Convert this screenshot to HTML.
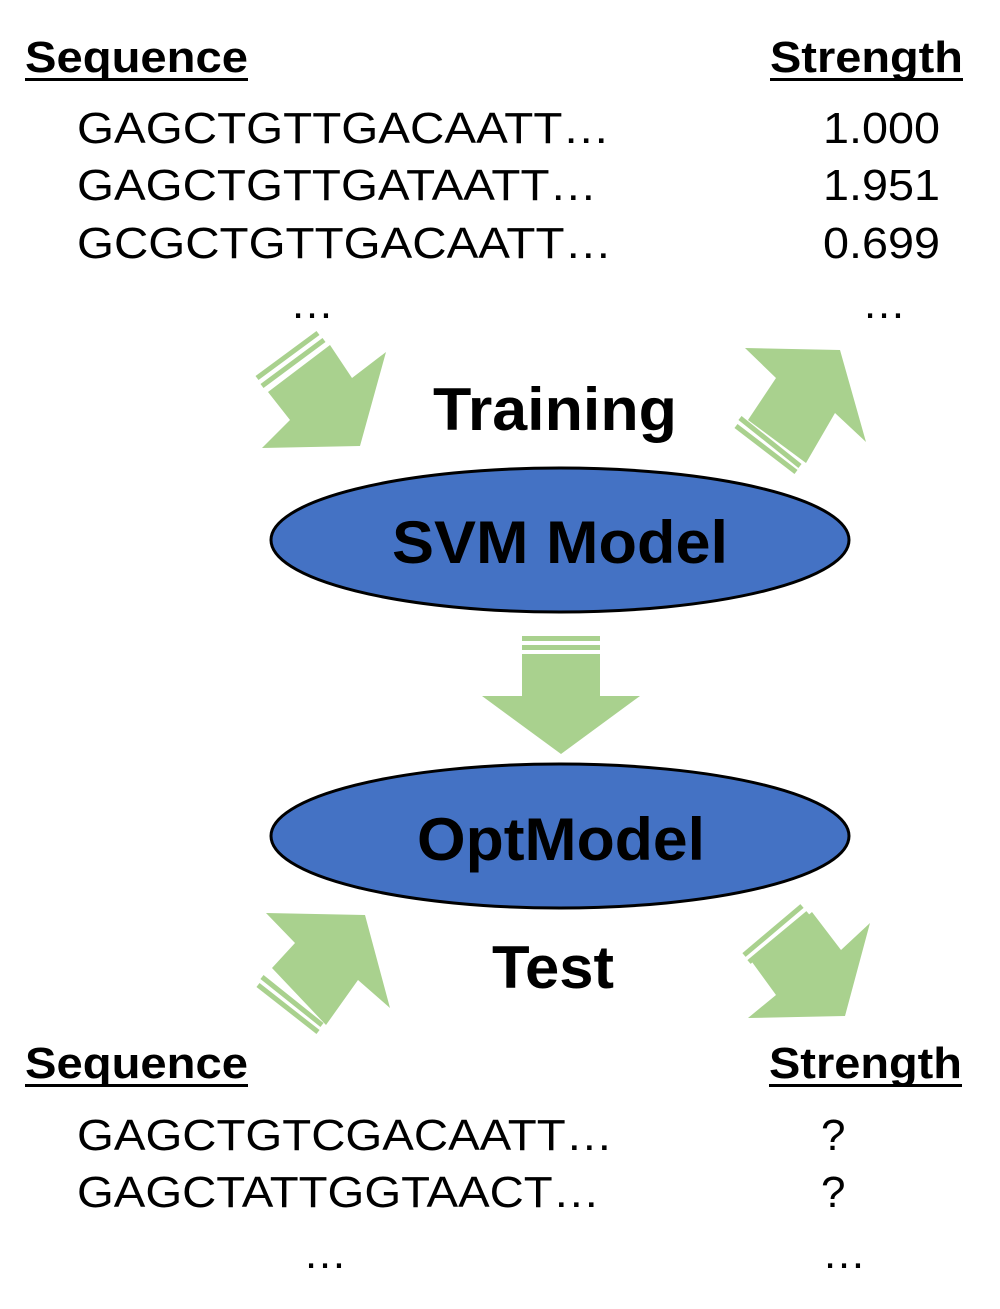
<!DOCTYPE html>
<html><head><meta charset="utf-8"><style>
html,body{margin:0;padding:0;background:#fff;}
svg{display:block;}
text{font-family:"Liberation Sans",Arial,sans-serif;fill:#000;}
.b{font-weight:bold;}
</style></head><body>
<svg width="1000" height="1309" viewBox="0 0 1000 1309" xmlns="http://www.w3.org/2000/svg">
<text x="25" y="72" class="b" font-size="44" textLength="223" lengthAdjust="spacingAndGlyphs">Sequence</text>
<rect x="25" y="78" width="223" height="3"/>
<text x="770" y="72" class="b" font-size="44" textLength="193" lengthAdjust="spacingAndGlyphs">Strength</text>
<rect x="770" y="78" width="193" height="3"/>
<g font-size="44">
<text x="77" y="143" textLength="533" lengthAdjust="spacingAndGlyphs">GAGCTGTTGACAATT…</text>
<text x="77" y="200" textLength="520" lengthAdjust="spacingAndGlyphs">GAGCTGTTGATAATT…</text>
<text x="77" y="258" textLength="535" lengthAdjust="spacingAndGlyphs">GCGCTGTTGACAATT…</text>
<text x="823" y="143" textLength="117" lengthAdjust="spacingAndGlyphs">1.000</text>
<text x="823" y="200" textLength="117" lengthAdjust="spacingAndGlyphs">1.951</text>
<text x="823" y="258" textLength="117" lengthAdjust="spacingAndGlyphs">0.699</text>
<text x="290" y="318">…</text>
<text x="862" y="318">…</text>
</g>
<g fill="#A9D18E">
<polygon points="268,392 330,345 352,378 386,352 360,446 262,448 290,420"/>
<polygon points="745,348 840,350 866,442 835,413 806,463 748,420 776,378"/>
<rect x="522" y="636" width="78" height="5"/>
<rect x="522" y="645" width="78" height="5"/>
<polygon points="522,654 600,654 600,696 640,696 561,754 482,696 522,696"/>
<polygon points="266,913 365,915 390,1008 358,980 326,1025 272,968 295,943"/>
<polygon points="812,912 841,950 870,923 845,1016 748,1018 776,995 752,962"/>
</g>
<g stroke="#A9D18E" stroke-width="5" fill="none">
<line x1="257" y1="378" x2="318" y2="333"/>
<line x1="262" y1="386" x2="324" y2="340"/>
<line x1="740" y1="418" x2="800" y2="466"/>
<line x1="736" y1="426" x2="796" y2="472"/>
<line x1="262" y1="977" x2="322" y2="1025"/>
<line x1="258" y1="985" x2="318" y2="1032"/>
<line x1="744" y1="955" x2="802" y2="906"/>
<line x1="749" y1="962" x2="808" y2="913"/>
</g>
<text x="555" y="430" class="b" font-size="60" text-anchor="middle" textLength="244" lengthAdjust="spacingAndGlyphs">Training</text>
<ellipse cx="560" cy="540" rx="289" ry="72" fill="#4472C4" stroke="#000" stroke-width="3"/>
<text x="560" y="563" class="b" font-size="60" text-anchor="middle" textLength="336" lengthAdjust="spacingAndGlyphs">SVM Model</text>
<ellipse cx="560" cy="836" rx="289" ry="72" fill="#4472C4" stroke="#000" stroke-width="3"/>
<text x="561" y="860" class="b" font-size="60" text-anchor="middle" textLength="288" lengthAdjust="spacingAndGlyphs">OptModel</text>
<text x="553" y="988" class="b" font-size="60" text-anchor="middle" textLength="122" lengthAdjust="spacingAndGlyphs">Test</text>
<text x="25" y="1078" class="b" font-size="44" textLength="223" lengthAdjust="spacingAndGlyphs">Sequence</text>
<rect x="25" y="1084" width="223" height="3"/>
<text x="769" y="1078" class="b" font-size="44" textLength="193" lengthAdjust="spacingAndGlyphs">Strength</text>
<rect x="769" y="1084" width="193" height="3"/>
<g font-size="44">
<text x="77" y="1150" textLength="536" lengthAdjust="spacingAndGlyphs">GAGCTGTCGACAATT…</text>
<text x="77" y="1207" textLength="523" lengthAdjust="spacingAndGlyphs">GAGCTATTGGTAACT…</text>
<text x="821" y="1150">?</text>
<text x="821" y="1207">?</text>
<text x="303" y="1268">…</text>
<text x="822" y="1268">…</text>
</g>
</svg>
</body></html>
